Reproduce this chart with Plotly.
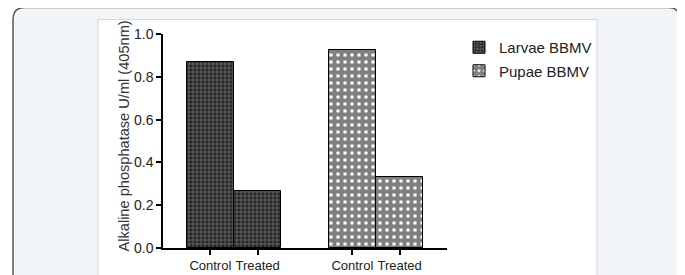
import plotly.graph_objects as go

# ---- data ----
categories = ["Control", "Treated"]
series_names = ["Larvae BBMV", "Pupae BBMV"]
larvae_values = [0.87, 0.265]
pupae_values = [0.925, 0.333]
y_title = "Alkaline phosphatase U/ml (405nm)"

# the page body adds an 8px margin; size the figure to fit the window
OFF = 8
W, H = 685 - OFF, 275 - OFF
FONT = "Liberation Sans, Arial, sans-serif"


def px(x):
    return (x - OFF) / W


def py(y):
    return 1 - (y - OFF) / H


def rounded_rect_path(x0, y0, x1, y1, r):
    p = []
    p.append(f"M {px(x0)},{py(y1)}")
    p.append(f"L {px(x0)},{py(y0 + r)}")
    p.append(f"Q {px(x0)},{py(y0)} {px(x0 + r)},{py(y0)}")
    p.append(f"L {px(x1 - r)},{py(y0)}")
    p.append(f"Q {px(x1)},{py(y0)} {px(x1)},{py(y0 + r)}")
    p.append(f"L {px(x1)},{py(y1)}")
    return " ".join(p)


n = len(categories)
group_step = n + 1
larvae_x = [0 * group_step + i for i in range(n)]
pupae_x = [1 * group_step + i for i in range(n)]

fig = go.Figure()
fig.add_trace(go.Bar(
    x=larvae_x, y=larvae_values, name=series_names[0], width=1,
    legendgroup="a",
    marker=dict(color="#262626", line=dict(color="black", width=1),
                pattern=dict(shape="+", bgcolor="#262626", fgcolor="#bdbdbd",
                             size=4, solidity=0.35, fillmode="overlay")),
))
fig.add_trace(go.Bar(
    x=pupae_x, y=pupae_values, name=series_names[1], width=1,
    legendgroup="b",
    marker=dict(color="white", line=dict(color="black", width=1),
                pattern=dict(shape="+", bgcolor="white", fgcolor="black",
                             size=7, solidity=0.8, fillmode="overlay")),
))

tickvals = larvae_x + pupae_x
ticktext = categories + categories

shapes = [
    dict(type="path", xref="paper", yref="paper", layer="below",
         path=rounded_rect_path(13, 7.5, 680, 290, 12) + " Z",
         line=dict(color="#555555", width=1.5), fillcolor="#f1f5f8"),
    dict(type="rect", xref="paper", yref="paper", layer="below",
         x0=px(98), x1=px(597), y0=py(290), y1=py(19.5),
         line=dict(color="#d6d6d6", width=1), fillcolor="white"),
]

fig.update_layout(
    width=W, height=H,
    margin=dict(l=0, r=0, t=0, b=0),
    paper_bgcolor="white", plot_bgcolor="white",
    barmode="overlay", bargap=0,
    font=dict(family=FONT, color="#222222"),
    shapes=shapes,
    showlegend=True,
    legend=dict(x=px(459), y=py(31), xanchor="left", yanchor="top",
                font=dict(size=15, family=FONT, color="#222222"),
                bgcolor="rgba(0,0,0,0)", tracegroupgap=1),
    xaxis=dict(domain=[px(163), px(447)], range=[-1, 5],
               tickmode="array", tickvals=tickvals, ticktext=ticktext,
               ticks="outside", ticklen=5, tickwidth=1.5, tickcolor="black",
               showline=True, linecolor="black", linewidth=1.5,
               showgrid=False, zeroline=False, automargin=False,
               tickfont=dict(size=13, family=FONT, color="#222222")),
    yaxis=dict(domain=[py(248), py(34)], range=[0, 1.0],
               tickmode="linear", tick0=0, dtick=0.2, tickformat=".1f",
               ticks="outside", ticklen=5, tickwidth=1.5, tickcolor="black",
               showline=True, linecolor="black", linewidth=1.5,
               showgrid=False, zeroline=False, automargin=False,
               tickfont=dict(size=14, family=FONT, color="#222222")),
    annotations=[dict(text=y_title, xref="paper", yref="paper",
                      x=px(123), y=py(136.5), xanchor="center", yanchor="middle",
                      textangle=-90, showarrow=False,
                      font=dict(size=14.6, family=FONT, color="#333333"))],
)

fig.write_html("out.html")
